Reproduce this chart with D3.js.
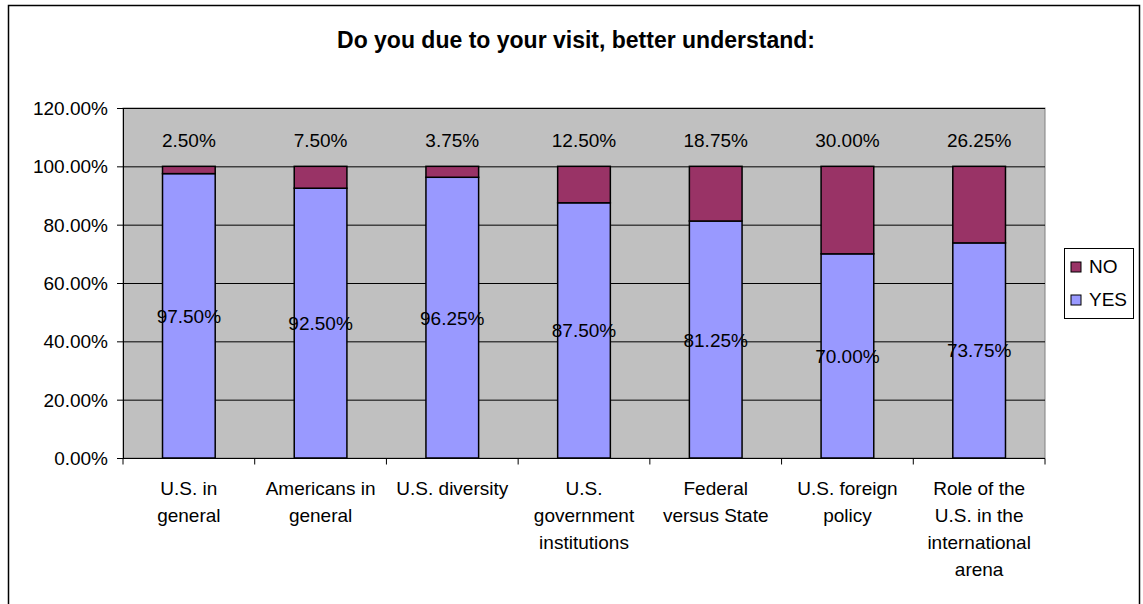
<!DOCTYPE html>
<html>
<head>
<meta charset="utf-8">
<script src="https://cdn.jsdelivr.net/npm/d3@7"></script>
<style>
  body { margin: 0; background: #fff; }
  text { font-family: "Liberation Sans", Arial, sans-serif; fill: #000; }
</style>
</head>
<body>
<div id="chart"></div>
<script>
var categories = [
  ["U.S. in", "general"],
  ["Americans in", "general"],
  ["U.S. diversity"],
  ["U.S.", "government", "institutions"],
  ["Federal", "versus State"],
  ["U.S. foreign", "policy"],
  ["Role of the", "U.S. in the", "international", "arena"]
];
var yesValues = [97.5, 92.5, 96.25, 87.5, 81.25, 70.0, 73.75];
var noValues = [2.5, 7.5, 3.75, 12.5, 18.75, 30.0, 26.25];
var yTicks = [0, 20, 40, 60, 80, 100, 120];

(function() {
  var width = 1143, height = 604;
  var margin = {left: 123, right: 98, top: 108, bottom: 146};
  var fs = "19px";

  var svg = d3.select("#chart").append("svg")
    .attr("width", width)
    .attr("height", height);

  // outer chart border
  svg.append("rect")
    .attr("x", 8.5).attr("y", 5.5)
    .attr("width", 1131).attr("height", 620)
    .attr("fill", "#fff")
    .attr("stroke", "#000")
    .attr("stroke-width", 1.5);

  svg.append("text")
    .attr("x", 576).attr("y", 48)
    .attr("text-anchor", "middle")
    .style("font-size", "23px")
    .style("font-weight", "bold")
    .text("Do you due to your visit, better understand:");

  var x = d3.scaleBand()
    .domain(d3.range(categories.length))
    .range([margin.left, width - margin.right]);

  var y = d3.scaleLinear()
    .domain([0, 120])
    .range([height - margin.bottom, margin.top]);

  var g = svg.append("g");

  // plot background
  g.append("rect")
    .attr("x", margin.left).attr("y", margin.top)
    .attr("width", width - margin.right - margin.left)
    .attr("height", y(0) - margin.top)
    .attr("fill", "#c0c0c0")
    .attr("stroke", "#808080");

  // gridlines
  g.selectAll(".grid")
    .data(yTicks.filter(function(d) { return d > 0; }))
    .enter().append("line")
    .attr("x1", margin.left).attr("x2", width - margin.right)
    .attr("y1", function(d) { return y(d) + 0.5; })
    .attr("y2", function(d) { return y(d) + 0.5; })
    .attr("stroke", "#000")
    .attr("stroke-width", 1);

  var barW = x.bandwidth() * 0.4;

  var stack = categories.map(function(c, i) {
    return {i: i, yes: yesValues[i], no: noValues[i]};
  });

  // YES segments
  g.selectAll(".yes")
    .data(stack)
    .enter().append("rect")
    .attr("class", "yes")
    .attr("x", function(d) { return x(d.i) + (x.bandwidth() - barW) / 2; })
    .attr("y", function(d) { return y(d.yes); })
    .attr("width", barW)
    .attr("height", function(d) { return y(0) - y(d.yes); })
    .attr("fill", "#9999ff")
    .attr("stroke", "#000")
    .attr("stroke-width", 1.5);

  // NO segments
  g.selectAll(".no")
    .data(stack)
    .enter().append("rect")
    .attr("class", "no")
    .attr("x", function(d) { return x(d.i) + (x.bandwidth() - barW) / 2; })
    .attr("y", function(d) { return y(d.yes + d.no); })
    .attr("width", barW)
    .attr("height", function(d) { return y(d.yes) - y(d.yes + d.no); })
    .attr("fill", "#993366")
    .attr("stroke", "#000")
    .attr("stroke-width", 1.5);

  // labels
  g.selectAll(".yes-label")
    .data(stack)
    .enter().append("text")
    .attr("x", function(d) { return x(d.i) + x.bandwidth() / 2; })
    .attr("y", function(d) { return y(d.yes / 2) + 7; })
    .attr("text-anchor", "middle")
    .style("font-size", fs)
    .text(function(d) { return d.yes.toFixed(2) + "%"; });

  g.selectAll(".no-label")
    .data(stack)
    .enter().append("text")
    .attr("x", function(d) { return x(d.i) + x.bandwidth() / 2; })
    .attr("y", y(109) + 7)
    .attr("text-anchor", "middle")
    .style("font-size", fs)
    .text(function(d) { return d.no.toFixed(2) + "%"; });

  // y axis
  var yAxis = d3.axisLeft(y)
    .tickValues(yTicks)
    .tickSize(6)
    .tickFormat(function(d) { return d.toFixed(2) + "%"; });

  var ya = svg.append("g")
    .attr("transform", "translate(" + margin.left + ",0)")
    .call(yAxis);
  ya.select(".domain").attr("stroke", "#000").attr("d", "M0.5," + y(120) + "V" + y(0));
  ya.selectAll("text").style("font-size", fs).attr("x", -15).attr("dy", "0.35em");

  // x axis
  var xa = svg.append("g")
    .attr("transform", "translate(0," + (y(0) + 0.5) + ")");
  xa.append("line")
    .attr("x1", margin.left).attr("x2", width - margin.right)
    .attr("stroke", "#000");
  xa.selectAll(".tick")
    .data(d3.range(categories.length + 1))
    .enter().append("line")
    .attr("x1", function(d) { return margin.left + d * x.step(); })
    .attr("x2", function(d) { return margin.left + d * x.step(); })
    .attr("y1", 0).attr("y2", 6)
    .attr("stroke", "#000");

  xa.selectAll(".cat")
    .data(categories)
    .enter().append("text")
    .attr("text-anchor", "middle")
    .style("font-size", fs)
    .attr("transform", function(d, i) {
      return "translate(" + (x(i) + x.bandwidth() / 2) + ",36)";
    })
    .each(function(d) {
      var t = d3.select(this);
      d.forEach(function(line, k) {
        t.append("tspan").attr("x", 0).attr("y", k * 27).text(line);
      });
    });

  // legend
  var lg = svg.append("g").attr("transform", "translate(1064,248)");
  lg.append("rect")
    .attr("x", 0.5).attr("y", 0.5)
    .attr("width", 69).attr("height", 70)
    .attr("fill", "#fff")
    .attr("stroke", "#000");
  var legendItems = [["NO", "#993366"], ["YES", "#9999ff"]];
  legendItems.forEach(function(item, k) {
    lg.append("rect")
      .attr("x", 7).attr("y", 14 + k * 33)
      .attr("width", 10).attr("height", 10)
      .attr("fill", item[1])
      .attr("stroke", "#000");
    lg.append("text")
      .attr("x", 25).attr("y", 25 + k * 33)
      .style("font-size", fs)
      .text(item[0]);
  });
})();
</script>
</body>
</html>
